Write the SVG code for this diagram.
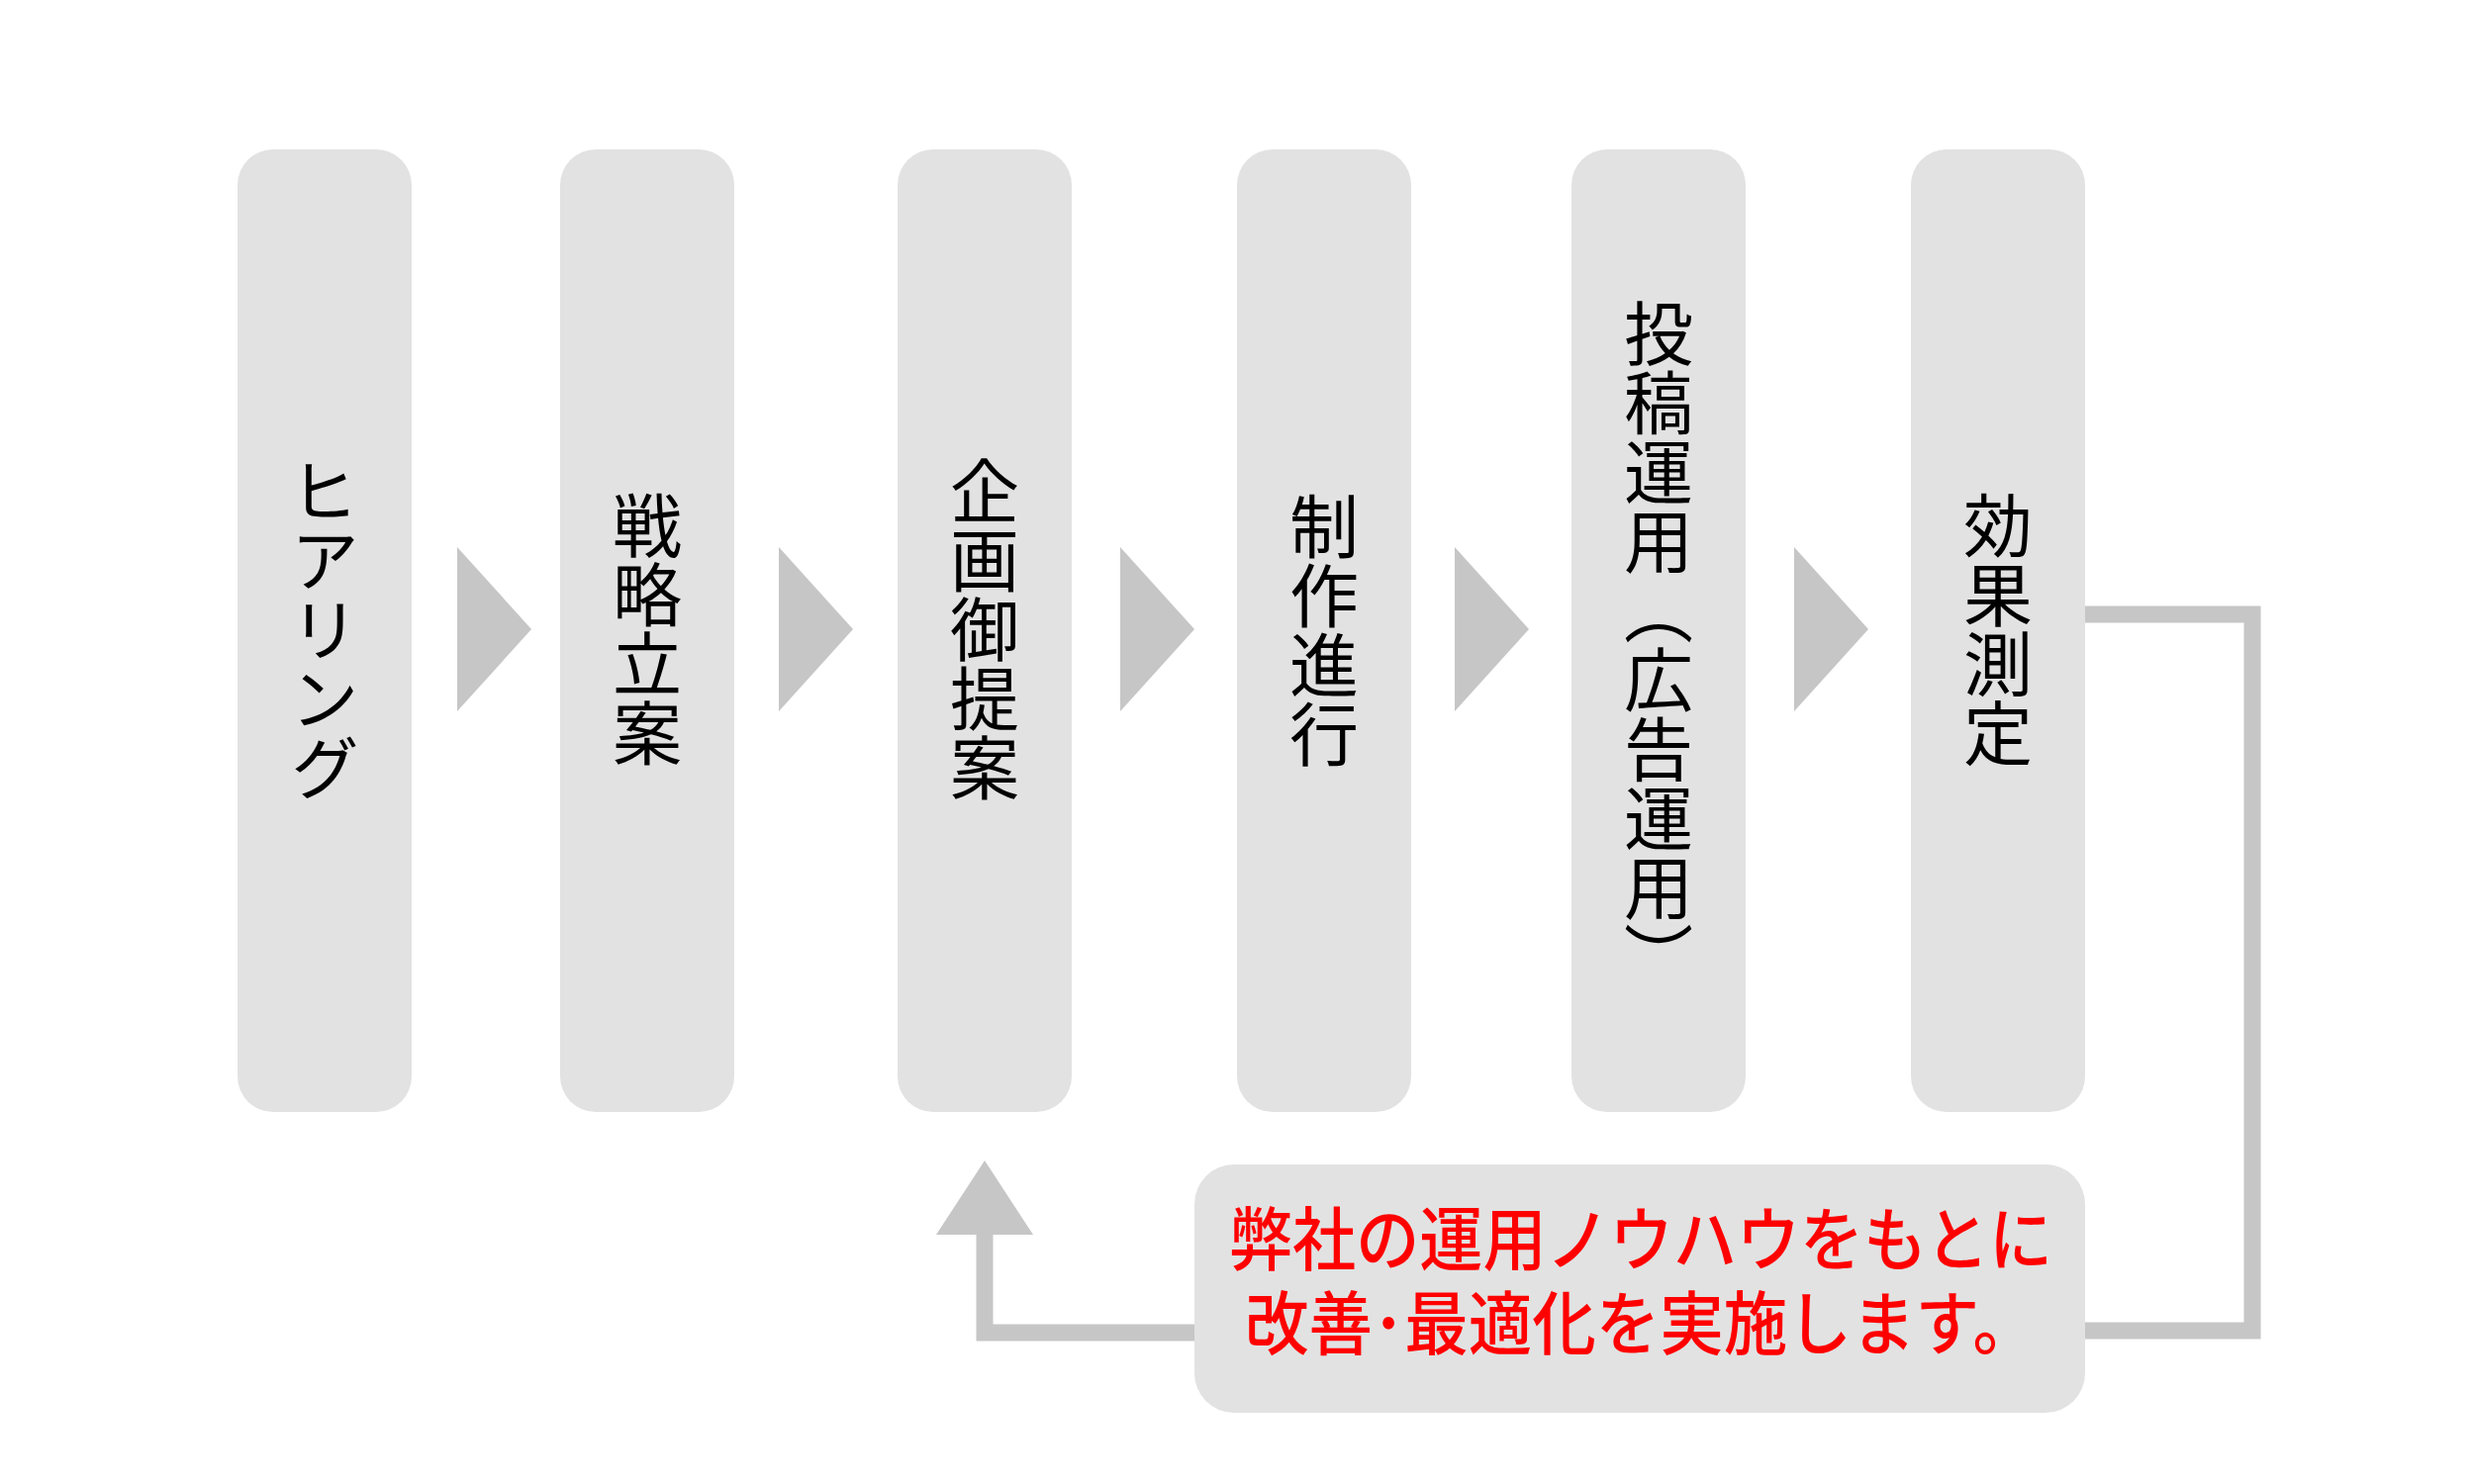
<svg xmlns="http://www.w3.org/2000/svg" width="2500" height="1500" viewBox="0 0 2500 1500">
<style>
.box{fill:#e2e2e2}
.chev{fill:#c6c6c6}
.line{fill:none;stroke:#c6c6c6;stroke-width:17;stroke-linejoin:miter}
.vt{font-family:"Noto Sans CJK JP","Noto Sans",sans-serif;font-size:70px;fill:#000;writing-mode:vertical-rl;text-anchor:middle}
.fb{font-family:"Noto Sans CJK JP","Noto Sans",sans-serif;font-size:70px;font-weight:500;fill:#ff0000;text-anchor:middle}
</style>
<rect width="2500" height="1500" fill="#fff"/>
<g id="connectors">
<polygon class="chev" points="462,553 537,636 462,719"/>
<polygon class="chev" points="787,553 862,636 787,719"/>
<polygon class="chev" points="1132,553 1207,636 1132,719"/>
<polygon class="chev" points="1470,553 1545,636 1470,719"/>
<polygon class="chev" points="1813,553 1888,636 1813,719"/>
<path class="line" d="M2107,621 H2276 V1345 H2095"/>
<path class="line" d="M1220,1347 H995 V1240"/>
<polygon class="chev" points="995,1173 946,1248 1044,1248"/>
</g>
<g id="n1"><rect class="box" x="240" y="151" width="176" height="973" rx="36"/><text class="vt" x="328" y="636">ヒアリング</text></g>
<g id="n2"><rect class="box" x="566" y="151" width="176" height="973" rx="36"/><text class="vt" x="654" y="636">戦略立案</text></g>
<g id="n3"><rect class="box" x="907" y="151" width="176" height="973" rx="36"/><text class="vt" x="995" y="636">企画御提案</text></g>
<g id="n4"><rect class="box" x="1250" y="151" width="176" height="973" rx="36"/><text class="vt" x="1338" y="637">制作進行</text></g>
<g id="n5"><rect class="box" x="1588" y="151" width="176" height="973" rx="36"/><text class="vt" x="1676" y="652">投稿運用（広告運用）</text></g>
<g id="n6"><rect class="box" x="1931" y="151" width="176" height="973" rx="36"/><text class="vt" x="2019" y="636">効果測定</text></g>
<g id="feedback"><rect class="box" x="1207" y="1177" width="900" height="251" rx="40"/>
<text class="fb" x="1658" y="1279" textLength="832" lengthAdjust="spacingAndGlyphs">弊社の運用ノウハウをもとに</text>
<text class="fb" x="1658" y="1364" textLength="800" lengthAdjust="spacingAndGlyphs">改善･最適化を実施します。</text></g>
</svg>
